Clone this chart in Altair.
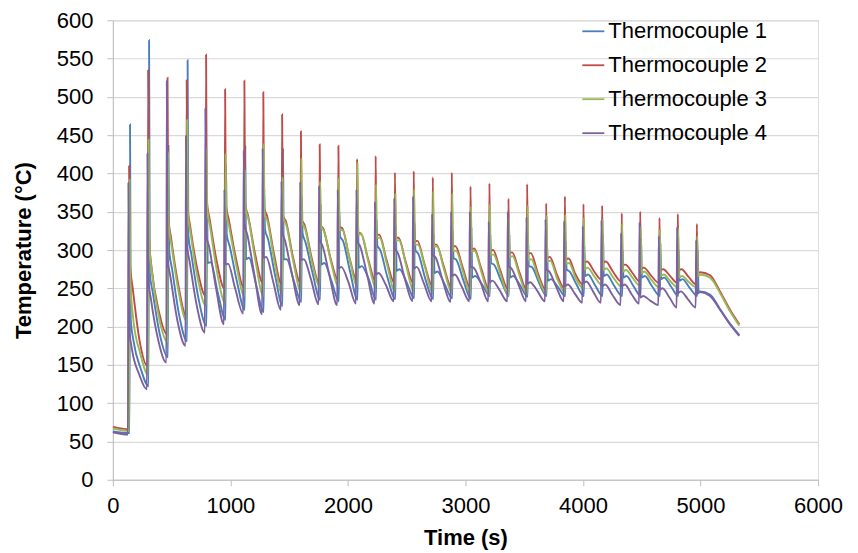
import altair as alt
import pandas as pd

SERIES = ["Thermocouple 1", "Thermocouple 2", "Thermocouple 3", "Thermocouple 4"]
COLORS = ["#4A7EBB", "#BE4B48", "#98B954", "#7D60A0"]

# spike (heating pulse) start times, s
SPIKE_T = [128, 290, 455, 618, 783, 945, 1109, 1270, 1430, 1590, 1750, 1909, 2068,
           2226, 2390, 2550, 2712, 2874, 3033, 3194, 3356, 3515, 3677, 3836, 3994,
           4153, 4320, 4477, 4641, 4797, 4959]
# small lag of each thermocouple's spike, s
DELAY = [14, 6, 10, 0]
START = [63, 69, 67, 62]
PRE = [61, 66, 64, 59]
TAIL_T = [4996, 5081, 5166, 5251, 5330]

# Thermocouple 1 (blue)
TC1_PEAK = [464, 574, 436, 548, 370, 411, 437, 380, 433, 370, 360, 350, 345, 340, 332, 335,
            320, 325, 330, 320, 320, 315, 310, 312, 305, 320, 300, 315, 309, 300, 300]
TC1_POST = [210, 270, 300, 320, 283, 320, 288, 327, 288, 322, 281, 318, 277, 306, 273, 300,
            270, 290, 264, 283, 264, 279, 260, 275, 266, 266, 264, 264, 262, 260, 246]
TC1_HUMP = [180, 245, 275, 295, 284, 305, 290, 315, 288, 310, 283, 312, 279, 300, 275, 295,
            272, 287, 266, 281, 266, 278, 262, 272, 268, 268, 266, 266, 264, 262]
TC1_MID = [145, 190, 215, 238, 245, 260, 255, 268, 260, 270, 260, 272, 262, 265, 258, 262,
           256, 260, 255, 260, 254, 258, 252, 255, 254, 254, 253, 253, 252, 251]
TC1_END = [122, 160, 181, 201, 209, 222, 219, 227, 232, 235, 233, 235, 235, 236, 237, 236,
           237, 236, 240, 240, 239, 240, 240, 240, 240, 240, 240, 240, 240, 240]
TC1_TAIL = [246, 242, 223, 204, 189]

# Thermocouple 2 (red)
TC2_PEAK = [410, 535, 525, 522, 555, 510, 521, 506, 477, 455, 438, 436, 419, 423, 401, 403,
            395, 401, 383, 387, 367, 386, 361, 370, 360, 358, 348, 350, 342, 347, 334]
TC2_POST = [285, 320, 345, 360, 365, 360, 360, 355, 345, 340, 333, 330, 322, 320, 316, 311,
            307, 305, 301, 299, 296, 295, 290, 288, 284, 284, 280, 276, 274, 274, 270]
TC2_HUMP = [250, 275, 315, 330, 340, 340, 345, 345, 338, 333, 328, 329, 322, 320, 316, 312,
            307, 305, 302, 300, 297, 296, 291, 289, 285, 285, 281, 277, 275, 275]
TC2_MID = [180, 220, 255, 275, 285, 290, 295, 295, 292, 290, 290, 292, 290, 288, 285, 282,
           280, 278, 276, 274, 272, 270, 268, 268, 272, 272, 270, 267, 266, 265]
TC2_END = [148, 190, 214, 240, 249, 251, 257, 255, 257, 257, 261, 261, 260, 257, 257, 253,
           251, 251, 249, 249, 248, 248, 250, 255, 261, 259, 259, 257, 257, 255]
TC2_TAIL = [271, 267, 246, 222, 203]

# Thermocouple 3 (green)
TC3_PEAK = [392, 444, 428, 470, 433, 426, 405, 439, 395, 420, 390, 394, 414, 386, 374, 380,
            377, 374, 357, 360, 340, 358, 345, 346, 342, 340, 335, 330, 327, 328, 318]
TC3_POST = [265, 310, 335, 350, 355, 350, 355, 348, 343, 337, 331, 326, 320, 316, 312, 307,
            304, 299, 298, 294, 291, 287, 285, 282, 275, 274, 272, 270, 266, 264, 266]
TC3_HUMP = [210, 268, 305, 320, 330, 330, 340, 338, 333, 328, 325, 326, 321, 316, 313, 307,
            305, 299, 299, 294, 292, 288, 286, 283, 277, 276, 274, 272, 268, 266]
TC3_MID = [165, 210, 245, 262, 270, 280, 285, 285, 285, 283, 285, 288, 285, 282, 280, 278,
           275, 272, 270, 268, 266, 264, 262, 262, 265, 264, 263, 261, 259, 258]
TC3_END = [137, 180, 207, 227, 231, 240, 240, 243, 246, 253, 253, 253, 251, 246, 246, 244,
           244, 242, 242, 241, 242, 243, 245, 250, 254, 252, 253, 251, 251, 251]
TC3_TAIL = [268, 264, 244, 220, 201]

# Thermocouple 4 (purple)
TC4_PEAK = [388, 426, 521, 449, 485, 379, 430, 433, 390, 389, 384, 379, 379, 363, 368, 370,
            347, 350, 350, 337, 350, 343, 340, 338, 331, 339, 322, 336, 318, 330, 313]
TC4_POST = [200, 265, 290, 310, 320, 281, 335, 290, 325, 287, 314, 276, 312, 268, 302, 276,
            294, 266, 278, 258, 279, 256, 275, 253, 257, 253, 253, 238, 248, 244, 243]
TC4_HUMP = [170, 235, 265, 285, 305, 282, 320, 291, 312, 288, 305, 278, 305, 270, 296, 278,
            290, 268, 277, 260, 276, 258, 272, 255, 259, 255, 255, 240, 250, 246]
TC4_MID = [138, 183, 207, 228, 250, 250, 268, 258, 268, 262, 265, 258, 268, 255, 262, 257,
           260, 252, 258, 248, 255, 247, 252, 243, 245, 242, 242, 234, 238, 236]
TC4_END = [118, 153, 175, 192, 203, 217, 216, 222, 228, 229, 228, 230, 230, 233, 233, 233,
           232, 233, 233, 233, 233, 233, 233, 231, 231, 228, 230, 228, 225, 225]
TC4_TAIL = [245, 240, 222, 203, 188]

TABLE = [
    (TC1_PEAK, TC1_POST, TC1_HUMP, TC1_MID, TC1_END, TC1_TAIL),
    (TC2_PEAK, TC2_POST, TC2_HUMP, TC2_MID, TC2_END, TC2_TAIL),
    (TC3_PEAK, TC3_POST, TC3_HUMP, TC3_MID, TC3_END, TC3_TAIL),
    (TC4_PEAK, TC4_POST, TC4_HUMP, TC4_MID, TC4_END, TC4_TAIL),
]

rows = []
for s, name in enumerate(SERIES):
    peak, post, hump, mid, end, tail = TABLE[s]
    d = DELAY[s]
    pts = [(0, START[s])]
    prev = PRE[s]
    n = len(SPIKE_T)
    for k, t0 in enumerate(SPIKE_T):
        t = t0 + d
        pts.append((t, prev))
        pts.append((t + 4, peak[k]))
        pts.append((t + 10, post[k]))
        if k < n - 1:
            pts.append((t + 35, hump[k]))
            pts.append((t + 95, mid[k]))
            prev = end[k]
        else:
            for tt, vv in zip(TAIL_T, tail):
                pts.append((tt, vv))
    for i, (t, v) in enumerate(pts):
        rows.append({"series": name, "t": t, "v": v, "i": i})

df = pd.DataFrame(rows)

FONT = "Liberation Sans"

chart = alt.Chart(df).mark_line(strokeWidth=1.9, interpolate="monotone").encode(
    x=alt.X("t:Q",
            scale=alt.Scale(domain=[0, 6000], nice=False, zero=False),
            axis=alt.Axis(values=list(range(0, 6001, 1000)), format="d", title="Time (s)",
                          grid=False,
                          labelFont=FONT, labelFontSize=22, labelColor="#000000",
                          labelPadding=10, tickSize=6, tickColor="#BFBFBF",
                          domainColor="#BFBFBF", titleFont=FONT, titleFontSize=22,
                          titleFontWeight="bold", titleColor="#000000", titlePadding=11,
                          labelFlush=False)),
    y=alt.Y("v:Q",
            scale=alt.Scale(domain=[0, 600], nice=False),
            axis=alt.Axis(values=list(range(0, 601, 50)), format="d",
                          title="Temperature (°C)",
                          grid=True, gridColor="#D9D9D9", gridWidth=1.2,
                          labelFont=FONT, labelFontSize=22, labelColor="#000000",
                          labelPadding=14, tickSize=6, tickColor="#BFBFBF",
                          domainColor="#BFBFBF", titleFont=FONT, titleFontSize=22,
                          titleFontWeight="bold", titleColor="#000000", titlePadding=21)),
    color=alt.Color("series:N",
                    scale=alt.Scale(domain=SERIES, range=COLORS),
                    legend=alt.Legend(title=None, orient="none", legendX=469, legendY=-1,
                                      symbolType="stroke", symbolSize=484,
                                      symbolStrokeWidth=1.8, labelFont=FONT,
                                      labelFontSize=22, labelColor="#000000",
                                      labelOffset=3, rowPadding=11, padding=0)),
    order=alt.Order("i:Q"),
).properties(
    width=706, height=460,
    autosize=alt.AutoSizeParams(type="none"),
    padding={"left": 105, "top": 12, "right": 32, "bottom": 72},
).configure_view(strokeWidth=0).configure(background="white")

chart.save("out.html", embed_options={"renderer": "svg", "actions": False})
